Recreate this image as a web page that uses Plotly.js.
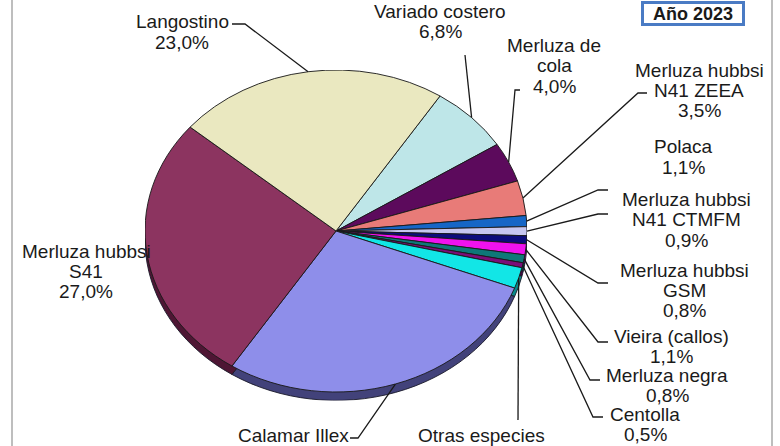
<!DOCTYPE html>
<html>
<head>
<meta charset="utf-8">
<script src="https://cdn.plot.ly/plotly-3.0.1.min.js"></script>
<style>
  html, body { margin: 0; padding: 0; background: #ffffff; }
  #wrap { position: relative; width: 780px; height: 446px; overflow: hidden; background: #ffffff; }
  #pie { position: absolute; }
  #over { position: absolute; left: 0; top: 0; width: 780px; height: 446px; }
</style>
</head>
<body>
<div id="wrap">
  <div id="pie"></div>
  <div id="over"></div>
</div>
<script>
// ---------------- DATA ----------------
const labels = ['Variado costero', 'Merluza de cola', 'Merluza hubbsi N41 ZEEA', 'Polaca',
  'Merluza hubbsi N41 CTMFM', 'Merluza hubbsi GSM', 'Vieira (callos)', 'Merluza negra',
  'Centolla', 'Otras especies', 'Calamar Illex', 'Merluza hubbsi S41', 'Langostino'];
const values = [6.8, 4.0, 3.5, 1.1, 0.9, 0.8, 1.1, 0.8, 0.5, 2.1, 28.4, 27.0, 23.0];
const pctText = ['6,8%', '4,0%', '3,5%', '1,1%', '0,9%', '0,8%', '1,1%', '0,8%', '0,5%', '', '', '27,0%', '23,0%'];
// label text split in lines (name lines, then the percentage)
const nameLines = [
  ['Variado costero'], ['Merluza de', 'cola'], ['Merluza hubbsi', 'N41 ZEEA'], ['Polaca'],
  ['Merluza hubbsi', 'N41 CTMFM'], ['Merluza hubbsi', 'GSM'], ['Vieira (callos)'], ['Merluza negra'],
  ['Centolla'], ['Otras especies'], ['Calamar Illex'], ['Merluza hubbsi', 'S41'], ['Langostino']
];
const yearLabel = 'Año 2023';

// ---------------- STYLE / LAYOUT ----------------
const colors = ['#BEE6E8', '#5C0A5C', '#E87B78', '#1666C6', '#C6C6F0', '#0C0C7C', '#F012EE',
  '#0E7878', '#7A0E78', '#12E6E6', '#8E8EEA', '#8C3460', '#EAE8C0'];
const rimColors = ['#6A8A8C', '#300430', '#8A4040', '#0A3A78', '#707090', '#060640', '#800880',
  '#064444', '#400640', '#088888', '#42427A', '#4E1634', '#8A8866'];
const CX = 336, CY = 231, RX = 191, RY = 161, RIM = 10, ROT = 33;

// label placement: center x, line center y's
const labelPos = [
  {x: 440, ys: [12, 32]},
  {x: 554, ys: [46, 66, 86]},
  {x: 699, ys: [70, 90, 110]},
  {x: 683, ys: [147, 167]},
  {x: 686, ys: [200, 219, 240]},
  {x: 684, ys: [270, 290, 310]},
  {x: 671, ys: [336, 356]},
  {x: 667, ys: [375, 395]},
  {x: 645, ys: [414, 434]},
  {x: 481, ys: [435]},
  {x: 293, ys: [435]},
  {x: 86, ys: [252, 271, 291]},
  {x: 182, ys: [21, 42]}
];
// leader polylines (points near the label); the pie end is computed from the data
const leaderPts = [
  [[465, 55]],
  [[520, 90], [515, 90]],
  [[647, 93], [638, 93]],
  [[608, 190], [598, 190]],
  [[608, 214], [598, 214]],
  [[608, 283], [598, 283]],
  [[608, 342], [598, 342]],
  [[600, 380], [590, 380]],
  [[603, 417], [593, 417]],
  [[518, 420]],
  [[350, 438], [358, 438]],
  null,
  [[232, 24], [245, 24]]
];

// ---------------- PIE (elliptical via vertical scaling) ----------------
const pieDiv = document.getElementById('pie');
const W = 2 * RX, H = 2 * RX + RIM;
pieDiv.style.width = W + 'px';
pieDiv.style.height = H + 'px';
pieDiv.style.left = (CX - RX) + 'px';
pieDiv.style.top = (CY - RX) + 'px';
pieDiv.style.transformOrigin = RX + 'px ' + RX + 'px';
pieDiv.style.transform = 'scaleY(' + (RY / RX) + ')';

const common = {
  type: 'pie', labels: labels, values: values, sort: false, direction: 'clockwise',
  rotation: ROT, textinfo: 'none', hoverinfo: 'skip', showlegend: false
};
const rimTrace = Object.assign({}, common, {
  marker: {colors: rimColors, line: {color: '#1a1a2a', width: 1}},
  domain: {x: [0, 1], y: [0, 2 * RX / H]}
});
const topTrace = Object.assign({}, common, {
  marker: {colors: colors, line: {color: '#1a1a1a', width: 1}},
  domain: {x: [0, 1], y: [RIM / H, 1]}
});
Plotly.newPlot(pieDiv, [rimTrace, topTrace], {
  width: W, height: H, margin: {l: 0, r: 0, t: 0, b: 0},
  paper_bgcolor: 'rgba(0,0,0,0)', plot_bgcolor: 'rgba(0,0,0,0)', showlegend: false
}, {staticPlot: true, displayModeBar: false});

// ---------------- LABELS OVERLAY ----------------
const total = values.reduce((a, b) => a + b, 0);
function edgePoint(i) {
  let cum = 0;
  for (let k = 0; k < i; k++) cum += values[k];
  const mid = ROT + (cum + values[i] / 2) / total * 360;
  const t = mid * Math.PI / 180;
  return [CX + RX * Math.sin(t), CY - RY * Math.cos(t)];
}
const px = x => x / 780, py = y => 1 - y / 446;
const font = {family: 'Liberation Sans, Arial, sans-serif', size: 19, color: '#1a1a1a'};
const annotations = [];
const shapes = [];
labels.forEach((lab, i) => {
  const lines = nameLines[i].slice();
  if (pctText[i]) lines.push(pctText[i]);
  lines.forEach((t, j) => {
    annotations.push({
      xref: 'paper', yref: 'paper', x: px(labelPos[i].x), y: py(labelPos[i].ys[j]),
      xanchor: 'center', yanchor: 'middle', text: t, showarrow: false, font: font
    });
  });
  if (leaderPts[i]) {
    const e = edgePoint(i);
    const pts = leaderPts[i].concat([e]);
    let d = 'M ' + px(pts[0][0]) + ' ' + py(pts[0][1]);
    for (let k = 1; k < pts.length; k++) d += ' L ' + px(pts[k][0]) + ' ' + py(pts[k][1]);
    shapes.push({type: 'path', xref: 'paper', yref: 'paper', path: d,
      line: {color: '#1a1a1a', width: 1.3}});
  }
});
// year box
annotations.push({
  xref: 'paper', yref: 'paper', x: px(693), y: py(14), xanchor: 'center', yanchor: 'middle',
  text: '<b>' + yearLabel + '</b>', showarrow: false, width: 96, height: 17,
  bgcolor: '#ffffff', bordercolor: '#4A7BC4', borderwidth: 3, borderpad: 1,
  font: {family: 'Liberation Sans, Arial, sans-serif', size: 18, color: '#1a1a1a'}
});
// frame lines
shapes.push({type: 'line', xref: 'paper', yref: 'paper', x0: px(12), x1: px(12), y0: 0, y1: 1,
  line: {color: '#a8a8a8', width: 1.5}});
shapes.push({type: 'line', xref: 'paper', yref: 'paper', x0: px(772), x1: px(772), y0: 0, y1: 1,
  line: {color: '#a8a8a8', width: 1.5}});

Plotly.newPlot('over', [], {
  width: 780, height: 446, margin: {l: 0, r: 0, t: 0, b: 0},
  paper_bgcolor: 'rgba(0,0,0,0)', plot_bgcolor: 'rgba(0,0,0,0)',
  xaxis: {visible: false}, yaxis: {visible: false},
  annotations: annotations, shapes: shapes, showlegend: false
}, {staticPlot: true, displayModeBar: false});
</script>
</body>
</html>
